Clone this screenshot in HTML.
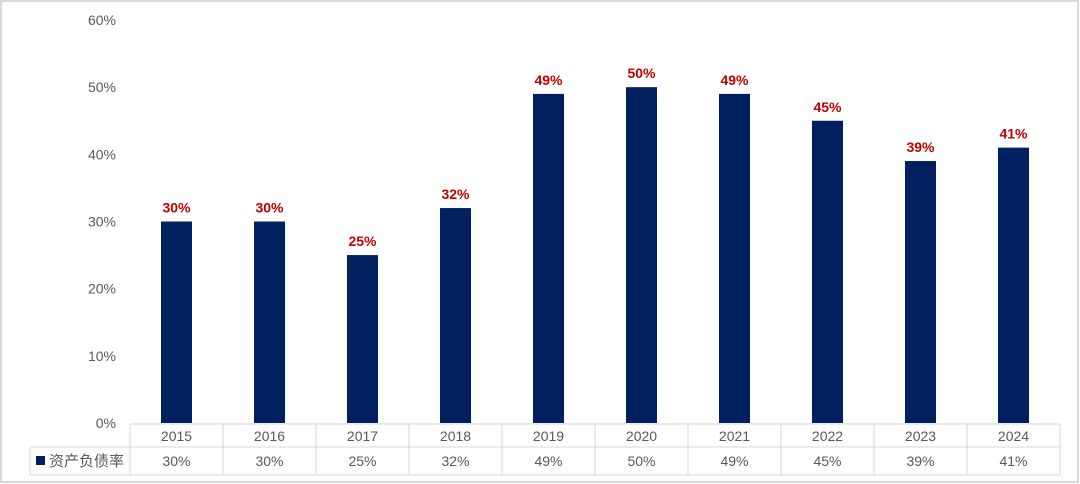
<!DOCTYPE html>
<html><head><meta charset="utf-8">
<style>
html,body{margin:0;padding:0;background:#fff;}
svg{display:block;font-family:"Liberation Sans","Noto Sans CJK SC",sans-serif;}
</style></head>
<body>
<svg id="chart" width="1080" height="484" viewBox="0 0 1080 484" xmlns="http://www.w3.org/2000/svg">
<rect x="1" y="1" width="1077" height="481" fill="#fff" stroke="#d9d9d9" stroke-width="2"/>
<g id="axis"></g>
<g id="bars"></g>
<g id="table"></g>
</svg>
<script>
const categories=["2015","2016","2017","2018","2019","2020","2021","2022","2023","2024"];
const values=[30,30,25,32,49,50,49,45,39,41];
const yTicks=[0,10,20,30,40,50,60];
const seriesName="资产负债率";

const NS="http://www.w3.org/2000/svg";
const plotL=130,plotR=1060,y0=423,yTop=20,yMax=60;
const bandW=(plotR-plotL)/categories.length;
const barW=31;
function yScale(v){return y0-(v/yMax)*(y0-yTop);}
function xCenter(i){return plotL+bandW*(i+0.5);}
function mk(tag,attrs,parent,text){
  const e=document.createElementNS(NS,tag);
  for(const k in attrs)e.setAttribute(k,attrs[k]);
  if(text!==undefined)e.textContent=text;
  parent.appendChild(e);return e;
}
const axis=document.getElementById('axis');
yTicks.forEach(t=>{
  const e=mk('text',{x:116,y:yScale(t)+5,'text-anchor':'end','font-size':14,fill:'#595959'},axis,t+'%');
  
  
});
const bars=document.getElementById('bars');
values.forEach((v,i)=>{
  const r=mk('rect',{x:xCenter(i)-barW/2,y:yScale(v),width:barW,height:y0-yScale(v),fill:'#002060'},bars);
  
  
  const l=mk('text',{x:xCenter(i),y:yScale(v)-9,'text-anchor':'middle','font-size':14,'font-weight':'bold',fill:'#c00000'},bars,v+'%');
  
  
});
const tbl=document.getElementById('table');
const r1=424,r2=447,r3=475,tL=30;
const gc='#d9d9d9';
mk('line',{x1:plotL,y1:r1,x2:plotR,y2:r1,stroke:gc},tbl);
mk('line',{x1:tL,y1:r2,x2:plotR,y2:r2,stroke:gc},tbl);
mk('line',{x1:tL,y1:r3,x2:plotR,y2:r3,stroke:gc},tbl);
mk('line',{x1:tL,y1:r2,x2:tL,y2:r3,stroke:gc},tbl);
for(let i=0;i<=categories.length;i++){
  const x=plotL+bandW*i;
  mk('line',{x1:x,y1:r1,x2:x,y2:r3,stroke:gc},tbl);
}
categories.forEach((c,i)=>{
  const h=mk('text',{x:xCenter(i),y:441,'text-anchor':'middle','font-size':14,fill:'#595959'},tbl,c);
  
  
  const d=mk('text',{x:xCenter(i),y:466,'text-anchor':'middle','font-size':14,fill:'#595959'},tbl,values[i]+'%');
  
  
});
const key=mk('rect',{x:36,y:456,width:9,height:9,fill:'#002060'},tbl);


const sn=mk('text',{x:49,y:466,'font-size':15,fill:'#595959'},tbl,seriesName);


</script>
</body></html>
